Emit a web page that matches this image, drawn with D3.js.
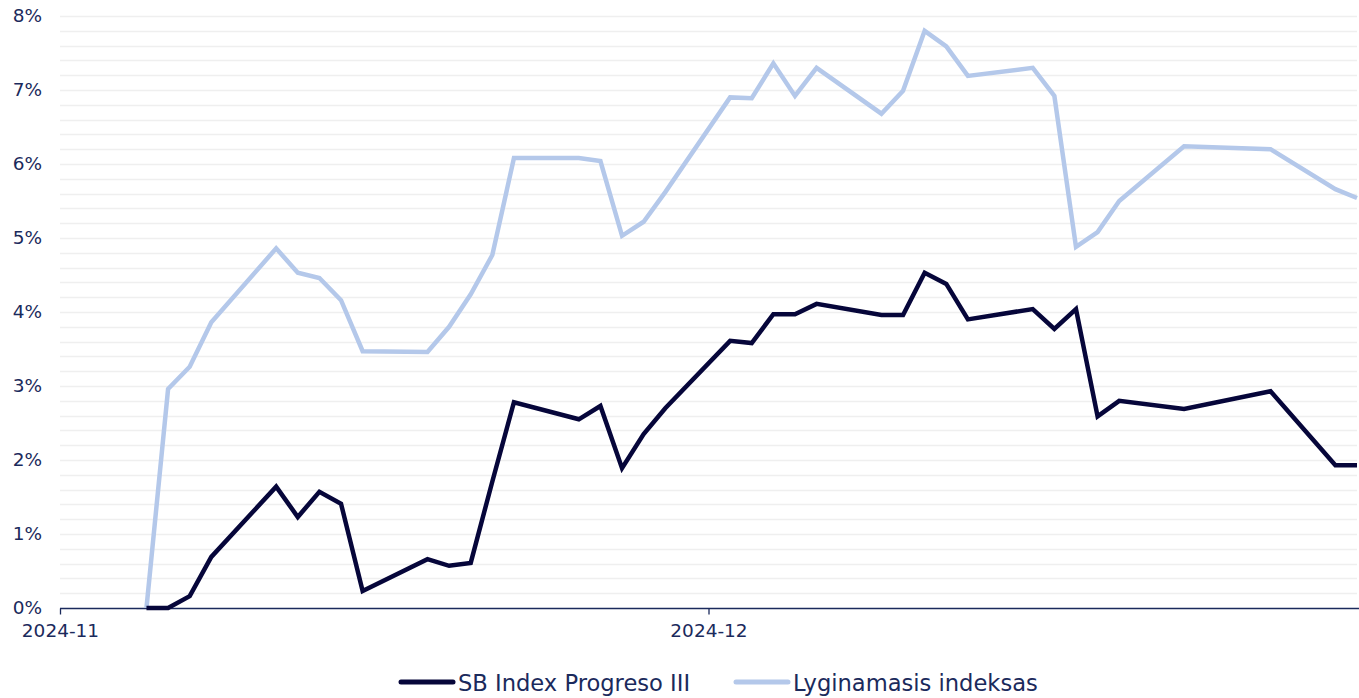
<!DOCTYPE html>
<html><head><meta charset="utf-8">
<script src="https://cdn.jsdelivr.net/npm/d3@7"></script>
<style>body{margin:0;background:#fff;font-family:"DejaVu Sans",Verdana,sans-serif;}</style>
</head><body><svg id="c" width="1359" height="698"></svg>
<script>
const dates = ["2024-11-05","2024-11-06","2024-11-07","2024-11-08","2024-11-11","2024-11-12","2024-11-13","2024-11-14","2024-11-15",
"2024-11-18","2024-11-19","2024-11-20","2024-11-21","2024-11-22","2024-11-25","2024-11-26","2024-11-27","2024-11-28","2024-11-29",
"2024-12-02","2024-12-03","2024-12-04","2024-12-05","2024-12-06","2024-12-09","2024-12-10","2024-12-11","2024-12-12","2024-12-13",
"2024-12-16","2024-12-17","2024-12-18","2024-12-19","2024-12-20","2024-12-23","2024-12-27","2024-12-30","2024-12-31"];
const sbIndex = [0,0,0.16,0.69,1.64,1.23,1.57,1.41,0.23,
0.66,0.57,0.61,1.71,2.78,2.55,2.73,1.89,2.35,2.70,
3.61,3.58,3.97,3.97,4.11,3.96,3.96,4.53,4.38,3.90,
4.04,3.77,4.04,2.59,2.80,2.69,2.93,1.93,1.93];
const benchmark = [0,2.96,3.26,3.86,4.86,4.53,4.46,4.16,3.47,
3.46,3.80,4.24,4.77,6.08,6.08,6.04,5.03,5.22,5.62,
6.90,6.89,7.36,6.92,7.30,6.68,6.99,7.80,7.59,7.19,
7.30,6.92,4.88,5.08,5.50,6.24,6.20,5.66,5.54];
const seriesNames = ["SB Index Progreso III","Lyginamasis indeksas"];
const colors = ["#06063a","#b4c8ea"];
const yTicks = [0,1,2,3,4,5,6,7,8];
const xTickLabels = ["2024-11","2024-12"];

(function(){
const parse = d3.timeParse("%Y-%m-%d");
const svg = d3.select("#c");
const mLeft = 60, mRight = 1357, mTop = 16, mBottom = 608;
const x = d3.scaleTime().domain([parse("2024-11-01"), parse("2024-12-31")]).range([mLeft, mRight]);
const y = d3.scaleLinear().domain([0, 8]).range([mBottom, mTop]);
const textColor = "#1b2a5c";
const font = '"DejaVu Sans",Verdana,sans-serif';

const grid = d3.range(0, 8.001, 0.2).filter(v => v > 0.001);
svg.append("g").selectAll("line").data(grid).join("line")
  .attr("x1", mLeft).attr("x2", mRight)
  .attr("y1", d => Math.round(y(d)) + 0.5).attr("y2", d => Math.round(y(d)) + 0.5)
  .attr("stroke", "#efefef").attr("stroke-width", 1.3);

const yAxis = d3.axisLeft(y).tickValues(yTicks).tickFormat(d => d + "%").tickSize(0).tickPadding(18);
const gy = svg.append("g").attr("transform", `translate(${mLeft},0)`).call(yAxis);
gy.select(".domain").remove();
gy.selectAll("text").attr("fill", textColor).style("font-size", "18.5px").style("font-family", font);

const xAxis = d3.axisBottom(x).tickValues([parse("2024-11-01"), parse("2024-12-01")])
  .tickFormat((d, i) => xTickLabels[i]).tickSize(6).tickPadding(9).tickSizeOuter(0);
const gx = svg.append("g").attr("transform", `translate(0,${mBottom + 0.5})`).call(xAxis);
gx.select(".domain").attr("stroke", textColor).attr("stroke-width", 1.3).attr("d", `M${mLeft},0H1359`);
gx.selectAll(".tick line").attr("stroke", textColor).attr("stroke-width", 1.3);
gx.selectAll("text").attr("fill", textColor).style("font-size", "18.5px").style("font-family", font);

const line = d3.line().x(d => x(d[0])).y(d => y(d[1]));
const dts = dates.map(parse);
[[benchmark, colors[1]], [sbIndex, colors[0]]].forEach(([vals, c]) => {
  svg.append("path").datum(dts.map((d, i) => [d, vals[i]]))
    .attr("d", line).attr("fill", "none").attr("stroke", c)
    .attr("stroke-width", 4.5).attr("stroke-linejoin", "miter").attr("stroke-linecap", "butt");
});

const legend = [{x: 401, name: seriesNames[0], c: colors[0]}, {x: 736, name: seriesNames[1], c: colors[1]}];
const lg = svg.append("g");
legend.forEach(l => {
  lg.append("line").attr("x1", l.x).attr("x2", l.x + 52).attr("y1", 682).attr("y2", 682)
    .attr("stroke", l.c).attr("stroke-width", 5).attr("stroke-linecap", "round");
  lg.append("text").attr("x", l.x + 57).attr("y", 683).attr("dy", "0.35em")
    .attr("fill", textColor).style("font-size", "22.6px").style("font-family", font).text(l.name);
});
})();
</script></body></html>
